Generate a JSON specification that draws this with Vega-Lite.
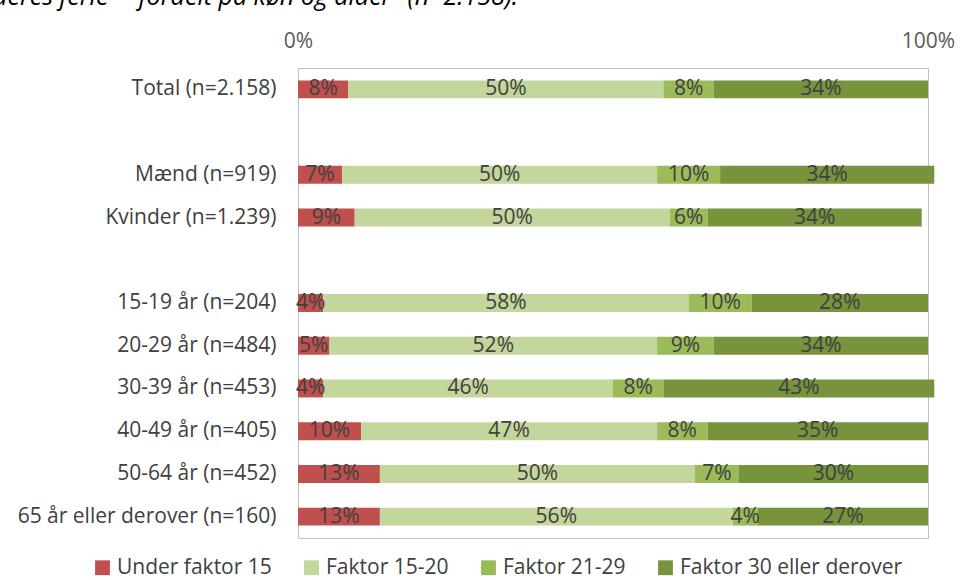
{
  "$schema": "https://vega.github.io/schema/vega-lite/v6.json",
  "width": 630,
  "height": 470,
  "autosize": {"type": "none"},
  "padding": {"left": 298, "top": 68, "right": 32, "bottom": 42},
  "background": "white",
  "title": {
    "text": "deres ferie\" - fordelt på køn og alder\" (n=2.158).",
    "anchor": "start",
    "frame": "group",
    "dx": -305,
    "offset": 20,
    "fontSize": 25,
    "fontStyle": "italic",
    "fontWeight": "normal",
    "font": "Open Sans",
    "color": "#000000"
  },
  "config": {
    "view": {"stroke": "#BFBFBF", "strokeWidth": 1},
    "font": "Open Sans"
  },
  "data": {
    "values": [
      {"cat": "Total (n=2.158)", "group": "Under faktor 15", "value": 8},
      {"cat": "Total (n=2.158)", "group": "Faktor 15-20", "value": 50},
      {"cat": "Total (n=2.158)", "group": "Faktor 21-29", "value": 8},
      {"cat": "Total (n=2.158)", "group": "Faktor 30 eller derover", "value": 34},
      {"cat": "Mænd (n=919)", "group": "Under faktor 15", "value": 7},
      {"cat": "Mænd (n=919)", "group": "Faktor 15-20", "value": 50},
      {"cat": "Mænd (n=919)", "group": "Faktor 21-29", "value": 10},
      {"cat": "Mænd (n=919)", "group": "Faktor 30 eller derover", "value": 34},
      {"cat": "Kvinder (n=1.239)", "group": "Under faktor 15", "value": 9},
      {"cat": "Kvinder (n=1.239)", "group": "Faktor 15-20", "value": 50},
      {"cat": "Kvinder (n=1.239)", "group": "Faktor 21-29", "value": 6},
      {"cat": "Kvinder (n=1.239)", "group": "Faktor 30 eller derover", "value": 34},
      {"cat": "15-19 år (n=204)", "group": "Under faktor 15", "value": 4},
      {"cat": "15-19 år (n=204)", "group": "Faktor 15-20", "value": 58},
      {"cat": "15-19 år (n=204)", "group": "Faktor 21-29", "value": 10},
      {"cat": "15-19 år (n=204)", "group": "Faktor 30 eller derover", "value": 28},
      {"cat": "20-29 år (n=484)", "group": "Under faktor 15", "value": 5},
      {"cat": "20-29 år (n=484)", "group": "Faktor 15-20", "value": 52},
      {"cat": "20-29 år (n=484)", "group": "Faktor 21-29", "value": 9},
      {"cat": "20-29 år (n=484)", "group": "Faktor 30 eller derover", "value": 34},
      {"cat": "30-39 år (n=453)", "group": "Under faktor 15", "value": 4},
      {"cat": "30-39 år (n=453)", "group": "Faktor 15-20", "value": 46},
      {"cat": "30-39 år (n=453)", "group": "Faktor 21-29", "value": 8},
      {"cat": "30-39 år (n=453)", "group": "Faktor 30 eller derover", "value": 43},
      {"cat": "40-49 år (n=405)", "group": "Under faktor 15", "value": 10},
      {"cat": "40-49 år (n=405)", "group": "Faktor 15-20", "value": 47},
      {"cat": "40-49 år (n=405)", "group": "Faktor 21-29", "value": 8},
      {"cat": "40-49 år (n=405)", "group": "Faktor 30 eller derover", "value": 35},
      {"cat": "50-64 år (n=452)", "group": "Under faktor 15", "value": 13},
      {"cat": "50-64 år (n=452)", "group": "Faktor 15-20", "value": 50},
      {"cat": "50-64 år (n=452)", "group": "Faktor 21-29", "value": 7},
      {"cat": "50-64 år (n=452)", "group": "Faktor 30 eller derover", "value": 30},
      {"cat": "65 år eller derover (n=160)", "group": "Under faktor 15", "value": 13},
      {"cat": "65 år eller derover (n=160)", "group": "Faktor 15-20", "value": 56},
      {"cat": "65 år eller derover (n=160)", "group": "Faktor 21-29", "value": 4},
      {"cat": "65 år eller derover (n=160)", "group": "Faktor 30 eller derover", "value": 27}
    ]
  },
  "transform": [
    {"calculate": "indexof(['Under faktor 15','Faktor 15-20','Faktor 21-29','Faktor 30 eller derover'], datum.group)", "as": "ord"},
    {"stack": "value", "groupby": ["cat"], "sort": [{"field": "ord", "order": "ascending"}], "as": ["x0", "x1"]},
    {"calculate": "(datum.x0 + datum.x1) / 2", "as": "xm"},
    {"calculate": "datum.value + '%'", "as": "label"}
  ],
  "encoding": {
    "y": {
      "field": "cat",
      "type": "nominal",
      "scale": {
        "domain": ["Total (n=2.158)", " ", "Mænd (n=919)", "Kvinder (n=1.239)", "  ", "15-19 år (n=204)", "20-29 år (n=484)", "30-39 år (n=453)", "40-49 år (n=405)", "50-64 år (n=452)", "65 år eller derover (n=160)"],
        "paddingInner": 0.58,
        "paddingOuter": 0.29
      },
      "axis": {
        "title": null,
        "domain": false,
        "ticks": false,
        "labelFontSize": 21,
        "labelColor": "#404040",
        "labelPadding": 22,
        "labelLimit": 400,
        "labelFont": "Open Sans"
      }
    }
  },
  "layer": [
    {
      "mark": {"type": "bar"},
      "encoding": {
        "x": {
          "field": "x0",
          "type": "quantitative",
          "scale": {"domain": [0, 100], "nice": false},
          "axis": {
            "orient": "top",
            "title": null,
            "values": [0, 100],
            "labelExpr": "datum.value + '%'",
            "domain": false,
            "ticks": false,
            "grid": false,
            "labelFlush": false,
            "labelFontSize": 21,
            "labelColor": "#595959",
            "labelPadding": 17,
            "labelFont": "Open Sans"
          }
        },
        "x2": {"field": "x1"},
        "color": {
          "field": "group",
          "type": "nominal",
          "scale": {
            "domain": ["Under faktor 15", "Faktor 15-20", "Faktor 21-29", "Faktor 30 eller derover"],
            "range": ["#C0504D", "#C3D69B", "#9BBB59", "#77933C"]
          },
          "legend": {
            "title": null,
            "orient": "none",
            "direction": "horizontal",
            "legendX": -206,
            "legendY": 489,
            "symbolType": "square",
            "symbolSize": 220,
            "symbolStrokeWidth": 0,
            "symbolOpacity": 1,
            "labelFontSize": 21,
            "labelColor": "#404040",
            "labelFont": "Open Sans",
            "labelLimit": 400,
            "columnPadding": 29,
            "labelOffset": 4
          }
        },
        "order": {"field": "ord"}
      }
    },
    {
      "mark": {"type": "text", "fontSize": 21, "color": "#404040", "align": "center", "baseline": "middle", "font": "Open Sans"},
      "encoding": {
        "x": {"field": "xm", "type": "quantitative"},
        "text": {"field": "label"}
      }
    }
  ]
}
